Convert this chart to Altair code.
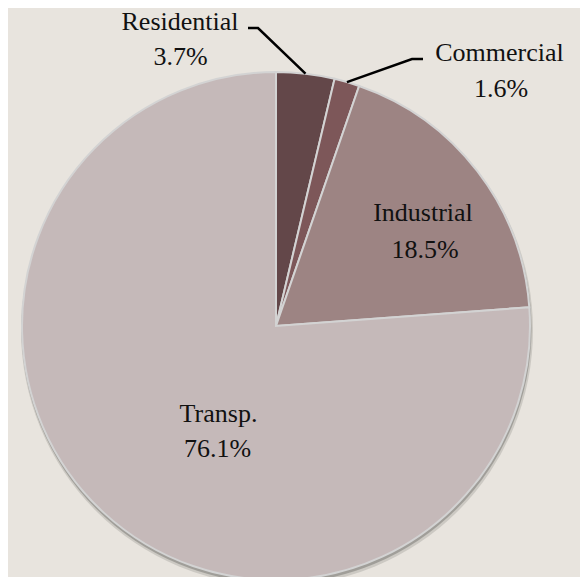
import math
import altair as alt
import pandas as pd

# ---- data ----
categories = ["Residential", "Commercial", "Industrial", "Transp."]
shares = [3.7, 1.6, 18.5, 76.1]
pct_labels = ["3.7%", "1.6%", "18.5%", "76.1%"]
colors = ["#634749", "#7D5759", "#9D8483", "#C5B9B9"]

# ---- layout (plot-area pixels) ----
CX, CY, R = 268, 318, 254
label_pos = {
    "Residential": ((172, 22), (172.5, 57)),
    "Commercial": ((491.5, 53), (493, 89)),
    "Industrial": ((415, 213), (417, 250)),
    "Transp.": ((210.5, 414), (209.5, 449)),
}
# leader lines: text end and elbow points for outside labels
leader_pts = {
    "Residential": [(240, 20), (250, 20)],
    "Commercial": [(415, 51), (404, 51)],
}

df = pd.DataFrame({"category": categories, "share": shares,
                   "idx": list(range(len(categories)))})

# text rows
trows = []
for c, p in zip(categories, pct_labels):
    (nx, ny), (px, py) = label_pos[c]
    trows.append({"t": c, "px": nx, "py": ny})
    trows.append({"t": p, "px": px, "py": py})
tdf = pd.DataFrame(trows)

# leader line rows (end point on the arc at the slice's mid angle)
total = sum(shares)
cum = 0.0
mids = {}
for c, s in zip(categories, shares):
    mids[c] = (cum + s / 2) / total * 2 * math.pi
    cum += s
lrows = []
for c, pts in leader_pts.items():
    th = mids[c]
    allp = pts + [(CX + R * math.sin(th), CY - R * math.cos(th))]
    for k, (x, y) in enumerate(allp):
        lrows.append({"label": c, "k": k, "px": x, "py": y})
ldf = pd.DataFrame(lrows)

shadow_df = pd.DataFrame({"a": [1]})

shadow1 = alt.Chart(shadow_df).mark_arc(
    theta=0, theta2=2 * math.pi, outerRadius=R + 2, color="#5F5F5A", opacity=0.2
).encode(x=alt.value(CX + 1), y=alt.value(CY + 4))
shadow2 = alt.Chart(shadow_df).mark_arc(
    theta=0, theta2=2 * math.pi, outerRadius=R + 1, color="#5F5F5A", opacity=0.4
).encode(x=alt.value(CX + 0.5), y=alt.value(CY + 2.5))

pie = alt.Chart(df).mark_arc(
    outerRadius=R, stroke="#D3D3D3", strokeWidth=2
).encode(
    theta=alt.Theta("share:Q", stack=True),
    color=alt.Color("category:N", scale=alt.Scale(domain=categories, range=colors), legend=None),
    order=alt.Order("idx:Q"),
    x=alt.value(CX),
    y=alt.value(CY),
)

lines = alt.Chart(ldf).mark_line(color="#000000", strokeWidth=2.5).encode(
    x=alt.X("px:Q", scale=None, axis=None),
    y=alt.Y("py:Q", scale=None, axis=None),
    detail="label:N",
    order="k:Q",
)

texts = alt.Chart(tdf).mark_text(
    font="Liberation Serif", fontSize=26, color="#111111",
    align="center", baseline="alphabetic"
).encode(
    x=alt.X("px:Q", scale=None, axis=None),
    y=alt.Y("py:Q", scale=None, axis=None),
    text="t:N",
)

chart = alt.layer(shadow1, shadow2, pie, lines, texts).properties(
    width=572, height=569, padding=0,
    autosize=alt.AutoSizeParams(type="none"),
    background="#E8E4DE",
).configure_view(stroke=None)

chart.save("out.html", embed_options={"renderer": "svg", "actions": False})
